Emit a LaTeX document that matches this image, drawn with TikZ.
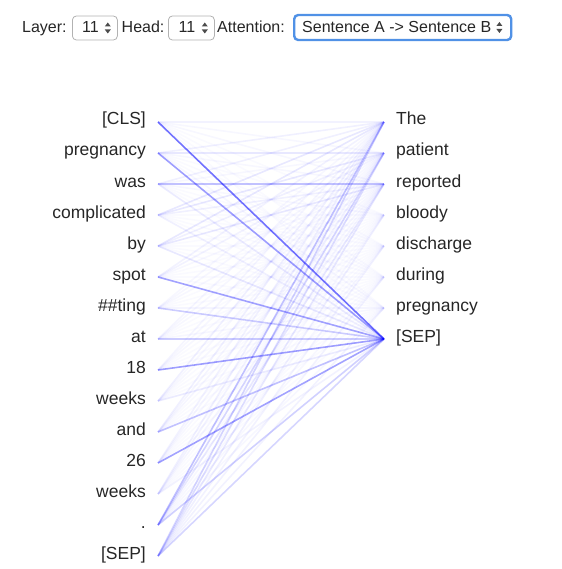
\documentclass[tikz,border=0pt]{standalone}
\usepackage{fontspec}
\setmainfont{Liberation Sans}
\usetikzlibrary{positioning}
\colorlet{TokenText}{black!85}
\colorlet{BoxBorder}{black!30}
\definecolor{FocusRing}{RGB}{80,145,230}
\colorlet{AttnLine}{blue}
\tikzset{
    toptext/.style={inner sep=0pt, text=TokenText, text height=12pt, text depth=2pt,
        font=\fontsize{16}{19}\selectfont},
    selbox/.style={draw=BoxBorder, line width=0.8pt, rounded corners=4pt, fill=white,
        minimum height=24pt, inner sep=0pt},
    token/.style={inner ysep=0pt, inner xsep=12pt, text=TokenText, text height=10pt,
        text depth=4pt, font=\fontsize{17.5}{21}\selectfont},
    attn/.style={draw=AttnLine, draw opacity=#1, line width=1.6pt},
}
\newcommand{\selarrows}[1]{%
    \fill[black!70] #1 ++(-3pt,-1.5pt) -- ++(6pt,0) -- ++(-3pt,-4pt) -- cycle;
    \fill[black!70] #1 ++(-3pt,1.5pt) -- ++(6pt,0) -- ++(-3pt,4pt) -- cycle;
}

\begin{document}
\begin{tikzpicture}[x=1pt, y=-1pt]
\useasboundingbox (0,0) rectangle (561,569);

% Barra de controles
\node[toptext, anchor=west] (layerlabel) at (22,28) {Layer:};
\node[selbox, minimum width=45pt, anchor=west] (layerbox) at (72,28) {};
\node[toptext, anchor=west] at ([xshift=10pt]layerbox.west) {11};
\selarrows{([xshift=-10pt]layerbox.east)}

\node[toptext, anchor=west] (headlabel) at (121.5,28) {Head:};
\node[selbox, minimum width=46pt, anchor=west] (headbox) at (168,28) {};
\node[toptext, anchor=west] at ([xshift=10.5pt]headbox.west) {11};
\selarrows{([xshift=-10pt]headbox.east)}

\node[toptext, anchor=west] (attnlabel) at (217,28) {Attention:};
\node[selbox, draw=FocusRing, line width=2.4pt, minimum width=217pt, minimum height=25pt,
    anchor=west] (attnbox) at (293,27.5) {};
\node[toptext, anchor=west] at ([xshift=9pt]attnbox.west) {Sentence A -> Sentence B};
\selarrows{([xshift=-13pt]attnbox.east)}

% Tokens de la oración A (izquierda) y de la oración B (derecha)
\foreach \t [count=\i from 0] in {[CLS], pregnancy, was, complicated, by, spot, \#\#ting,
    at, 18, weeks, and, 26, weeks, ., [SEP]}
    \node[token, anchor=east] (l\i) at (158,{122+31*\i}) {\t};
\foreach \t [count=\j from 0] in {The, patient, reported, bloody, discharge, during,
    pregnancy, [SEP]}
    \node[token, anchor=west] (r\j) at (384,{122+31*\j}) {\t};

% Pesos de atención, una fila por token de la izquierda
\foreach \ws [count=\i from 0] in {
    {.05,.03,.03,.02,.02,.02,.02,.55},
    {.06,.09,.03,.02,.02,.02,.03,.38},
    {.06,.03,.24,.03,.02,.02,.02,.08},
    {.09,.09,.06,.02,.02,.02,.02,.06},
    {.09,.06,.09,.02,.02,.02,.02,.09},
    {.05,.05,.03,.02,.02,.02,.02,.36},
    {.03,.03,.03,.02,.02,.02,.04,.20},
    {.04,.03,.03,.02,.02,.02,.03,.20},
    {.04,.03,.03,.02,.02,.02,.02,.38},
    {.06,.03,.03,.02,.02,.02,.02,.08},
    {.06,.04,.04,.02,.02,.02,.02,.24},
    {.05,.04,.03,.02,.02,.02,.02,.36},
    {.06,.05,.04,.02,.02,.02,.02,.05},
    {.24,.16,.09,.03,.03,.03,.03,.18},
    {.16,.13,.09,.06,.05,.05,.05,.16}}
    \foreach \w [count=\j from 0] in \ws
        \draw[attn=\w] (l\i.east) -- (r\j.west);
\end{tikzpicture}
\end{document}
